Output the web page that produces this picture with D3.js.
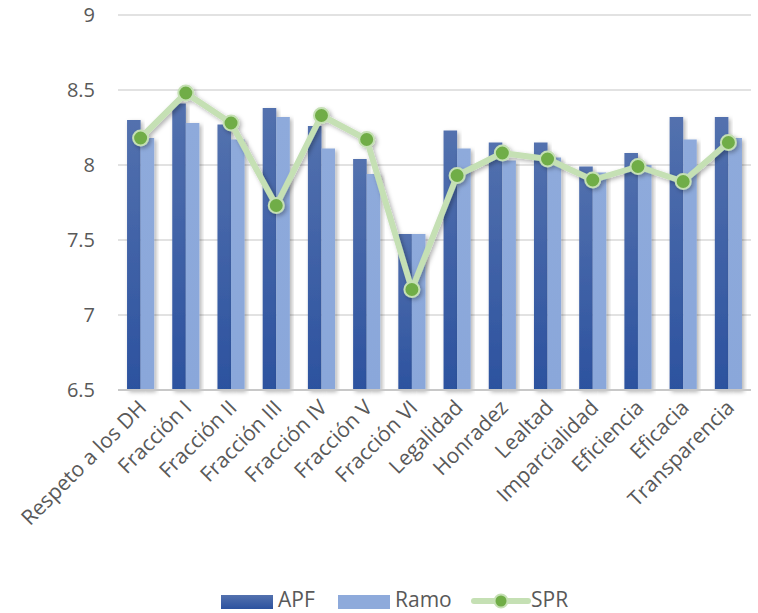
<!DOCTYPE html>
<html>
<head>
<meta charset="utf-8">
<script src="https://cdn.jsdelivr.net/npm/d3@7"></script>
<style>
  body { margin: 0; background: #fff; }
  svg { display: block; font-family: "Open Sans", sans-serif; }
</style>
</head>
<body>
<div id="chart"></div>
<script>
var categories = ['Respeto a los DH', 'Fracción I', 'Fracción II', 'Fracción III', 'Fracción IV',
	'Fracción V', 'Fracción VI', 'Legalidad', 'Honradez', 'Lealtad', 'Imparcialidad',
	'Eficiencia', 'Eficacia', 'Transparencia'];
var apf = [8.30, 8.41, 8.27, 8.38, 8.26, 8.04, 7.54, 8.23, 8.15, 8.15, 7.99, 8.08, 8.32, 8.32];
var ramo = [8.18, 8.28, 8.17, 8.32, 8.11, 7.94, 7.54, 8.11, 8.03, 8.05, 7.95, 8.00, 8.17, 8.18];
var spr = [8.18, 8.48, 8.28, 7.73, 8.33, 8.17, 7.17, 7.93, 8.08, 8.04, 7.90, 7.99, 7.89, 8.15];
var yTicks = [6.5, 7, 7.5, 8, 8.5, 9];

var width = 758, height = 613;
var margin = {top: 15, right: 7, bottom: 223, left: 118};

var svg = d3.select('#chart').append('svg')
	.attr('width', width)
	.attr('height', height);

var defs = svg.append('defs');
var g1 = defs.append('linearGradient').attr('id', 'grad-apf')
	.attr('x1', 0).attr('y1', 0).attr('x2', 0).attr('y2', 1);
g1.append('stop').attr('offset', '0%').attr('stop-color', '#5371ae');
g1.append('stop').attr('offset', '100%').attr('stop-color', '#2c529f');
var g2 = defs.append('linearGradient').attr('id', 'grad-ramo')
	.attr('x1', 0).attr('y1', 0).attr('x2', 0).attr('y2', 1);
g2.append('stop').attr('offset', '0%').attr('stop-color', '#8eaadb');
g2.append('stop').attr('offset', '100%').attr('stop-color', '#8aa7da');
var sh = defs.append('filter').attr('id', 'shadow')
	.attr('x', '-30%').attr('y', '-10%').attr('width', '160%').attr('height', '130%');
sh.append('feDropShadow').attr('dx', 2).attr('dy', 2).attr('stdDeviation', 2)
	.attr('flood-color', '#000').attr('flood-opacity', 0.3);

var x = d3.scaleBand()
	.domain(categories)
	.range([margin.left, width - margin.right])
	.paddingInner(0.4)
	.paddingOuter(0.2);
var xs = d3.scaleBand()
	.domain(['apf', 'ramo'])
	.range([0, x.bandwidth()]);
var y = d3.scaleLinear()
	.domain([6.5, 9])
	.range([height - margin.bottom, margin.top]);

// gridlines
svg.append('g')
	.selectAll('line')
	.data(yTicks.slice(1))
	.enter().append('line')
		.attr('x1', margin.left)
		.attr('x2', width - margin.right)
		.attr('y1', function(d) { return y(d); })
		.attr('y2', function(d) { return y(d); })
		.attr('stroke', '#d9d9d9')
		.attr('stroke-width', 1.5);

// y axis labels
var yAxis = d3.axisLeft(y).tickValues(yTicks).tickSize(0).tickPadding(23)
	.tickFormat(function(d) { return d; });
var ya = svg.append('g')
	.attr('transform', 'translate(' + margin.left + ',0)')
	.call(yAxis);
ya.select('.domain').remove();
ya.selectAll('text')
	.attr('font-size', 20)
	.attr('fill', '#595959')
	.style('font-family', '"Open Sans", sans-serif');

// bars
var groups = svg.append('g').selectAll('g')
	.data(categories)
	.enter().append('g')
		.attr('transform', function(d) { return 'translate(' + x(d) + ',0)'; });

groups.append('rect')
	.attr('x', xs('apf'))
	.attr('width', xs.bandwidth())
	.attr('y', function(d, i) { return y(apf[i]); })
	.attr('height', function(d, i) { return y(6.5) - y(apf[i]); })
	.attr('fill', 'url(#grad-apf)')
	.attr('filter', 'url(#shadow)');

groups.append('rect')
	.attr('x', xs('ramo'))
	.attr('width', xs.bandwidth())
	.attr('y', function(d, i) { return y(ramo[i]); })
	.attr('height', function(d, i) { return y(6.5) - y(ramo[i]); })
	.attr('fill', 'url(#grad-ramo)')
	.attr('filter', 'url(#shadow)');

// x axis line
svg.append('line')
	.attr('x1', margin.left)
	.attr('x2', width - margin.right)
	.attr('y1', y(6.5))
	.attr('y2', y(6.5))
	.attr('stroke', '#c8c8c8')
	.attr('stroke-width', 2);

// SPR line
var cx = function(i) { return x(categories[i]) + x.bandwidth() / 2; };
var line = d3.line()
	.x(function(d, i) { return cx(i); })
	.y(function(d) { return y(d); });

var sprG = svg.append('g').attr('filter', 'url(#shadow)');
sprG.append('path')
	.datum(spr)
	.attr('d', line)
	.attr('fill', 'none')
	.attr('stroke', '#c5e0b4')
	.attr('stroke-width', 6)
	.attr('stroke-linejoin', 'round');
sprG.selectAll('circle')
	.data(spr)
	.enter().append('circle')
		.attr('cx', function(d, i) { return cx(i); })
		.attr('cy', function(d) { return y(d); })
		.attr('r', 7.5)
		.attr('fill', '#70ad47')
		.attr('stroke', '#c5e0b4')
		.attr('stroke-width', 2);

// x labels
var xl = svg.append('g');
xl.selectAll('text')
	.data(categories)
	.enter().append('text')
		.attr('transform', function(d) {
			return 'translate(' + (x(d) + x.bandwidth() / 2 + 7) + ',' + (y(6.5) + 19) + ') rotate(-45)';
		})
		.attr('text-anchor', 'end')
		.attr('font-size', 21)
		.attr('fill', '#595959')
		.text(function(d) { return d; });

// legend
var legend = svg.append('g').attr('transform', 'translate(0,' + 600 + ')');
var lx = [221, 338];
legend.append('rect').attr('x', lx[0]).attr('y', -5).attr('width', 52).attr('height', 14)
	.attr('fill', 'url(#grad-apf)');
legend.append('text').attr('x', lx[0] + 57).attr('y', 7).attr('font-size', 21)
	.attr('fill', '#595959').text('APF');
legend.append('rect').attr('x', lx[1]).attr('y', -5).attr('width', 52).attr('height', 14)
	.attr('fill', '#8eaadb');
legend.append('text').attr('x', lx[1] + 57).attr('y', 7).attr('font-size', 21)
	.attr('fill', '#595959').text('Ramo');
legend.append('line').attr('x1', 474).attr('x2', 528).attr('y1', 1).attr('y2', 1)
	.attr('stroke', '#c5e0b4').attr('stroke-width', 6).attr('stroke-linecap', 'round');
legend.append('circle').attr('cx', 501).attr('cy', 1).attr('r', 6.5)
	.attr('fill', '#70ad47').attr('stroke', '#c5e0b4').attr('stroke-width', 2);
legend.append('text').attr('x', 531).attr('y', 7).attr('font-size', 21)
	.attr('fill', '#595959').text('SPR');
</script>
</body>
</html>
